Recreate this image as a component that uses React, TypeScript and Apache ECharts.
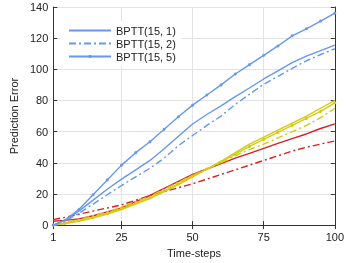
import React, { useEffect, useRef } from "react";
import * as echarts from "echarts";

const timeSteps = [1, 5, 10, 15, 20, 25, 30, 35, 40, 45, 50, 55, 60, 65, 70, 75, 80, 85, 90, 95, 100];
const xTicks = [1, 25, 50, 75, 100];

const blue1 = [0, 3, 9, 16, 23, 29.5, 35.5, 41.5, 49, 57, 64.9, 71, 76.5, 82.5, 88, 93.8, 99, 104.3, 108.5, 112, 115.5];
const blue2 = [0, 2.5, 7.5, 13.5, 19.5, 25.4, 31, 36.5, 43, 51, 57.5, 64, 70, 77.5, 84, 90.4, 95.5, 100.6, 105.5, 109.5, 113.2];
const blue5 = [0, 3, 10, 19.5, 29, 38.5, 46.5, 53.5, 61.5, 69.5, 77, 83.5, 90, 97, 103, 109, 115, 121.5, 126, 131, 136];
const red1 = [2.5, 3, 4, 6, 8.5, 11, 15, 19, 23.5, 28, 32.5, 36, 39.5, 43, 46, 49.3, 52.5, 55.5, 58.5, 62, 65];
const red2 = [3.5, 5, 7, 9, 11, 13, 16, 19, 21.5, 24, 26.5, 29.5, 32.5, 35.5, 38.5, 41.5, 44.5, 47.5, 50, 52, 54];
const yellow1 = [0, 1, 2.5, 4.5, 7, 10, 13.5, 17, 21.5, 26, 31, 36, 41, 46.5, 52, 56.5, 61, 65.5, 70, 75, 80];
const yellow5 = [0, 1, 3, 5, 7.5, 10.5, 14, 17.5, 22, 26.5, 31.5, 36, 40.5, 45.5, 50.5, 55, 59.5, 64, 68.5, 73, 78.5];
const yellow2 = [0, 1.5, 3.5, 6, 8.5, 11.5, 15, 18.5, 23, 27.5, 32, 36, 40, 44.5, 48.5, 52, 56, 60, 64, 69, 75];

const legendNames = ["BPTT(15, 1)", "BPTT(15, 2)", "BPTT(15, 5)"];

const BLUE = "#6797ee";
const RED = "#d92020";
const YELLOW = "#d2cc12";
const DASHDOT = [7, 3, 2, 3];

const zip = (vals: number[]) => timeSteps.map((t, i) => [t, vals[i]]);

export default function App() {
  const ref = useRef<HTMLDivElement>(null);
  useEffect(() => {
    if (!ref.current) return;
    const chart = echarts.init(ref.current, null, { renderer: "svg" });
    const font = "Liberation Sans";
    const mk = (name: string, vals: number[], color: string, dash: boolean, marker: boolean) => ({
      type: "line",
      name,
      data: zip(vals),
      symbol: marker ? "circle" : "none",
      symbolSize: 3,
      showSymbol: marker,
      itemStyle: { color },
      lineStyle: { color, width: 1.4, type: dash ? DASHDOT : "solid" },
      z: 3,
    });
    chart.setOption({
      animation: false,
      textStyle: { fontFamily: font },
      grid: { left: 46, right: 11, top: 7, bottom: 36 },
      legend: {
        data: [
          { name: legendNames[0], itemStyle: { opacity: 0 } },
          { name: legendNames[1], itemStyle: { opacity: 0 } },
          { name: legendNames[2] },
        ],
        orient: "vertical",
        left: 60,
        top: 21,
        itemWidth: 42,
        itemHeight: 4,
        itemGap: 2,
        backgroundColor: "#ffffff",
        padding: [4, 6, 4, 8],
        textStyle: { fontSize: 11, color: "#222", fontFamily: font },
      },
      xAxis: [
        {
          type: "value",
          min: 1,
          max: 100,
          name: "Time-steps",
          nameLocation: "middle",
          nameGap: 18,
          nameTextStyle: { fontSize: 11, color: "#222" },
          axisLine: { show: true, lineStyle: { color: "#333" } },
          axisTick: { show: true, inside: true, length: 4, customValues: xTicks, lineStyle: { color: "#333" } },
          axisLabel: { customValues: xTicks, fontSize: 11, color: "#222", margin: 6 },
          splitLine: { show: true, lineStyle: { color: "#e3e3e3" } },
        },
        {
          type: "value",
          min: 1,
          max: 100,
          position: "top",
          axisLine: { show: true, lineStyle: { color: "#333" } },
          axisTick: { show: true, inside: true, length: 4, customValues: xTicks, lineStyle: { color: "#333" } },
          axisLabel: { show: false, customValues: xTicks },
          splitLine: { show: false },
        },
      ],
      yAxis: [
        {
          type: "value",
          min: 0,
          max: 140,
          interval: 20,
          name: "Prediction Error",
          nameLocation: "middle",
          nameGap: 25,
          nameTextStyle: { fontSize: 11, color: "#222" },
          axisLine: { show: true, lineStyle: { color: "#333" } },
          axisTick: { show: true, inside: true, length: 4, lineStyle: { color: "#333" } },
          axisLabel: { fontSize: 11, color: "#222", margin: 5 },
          splitLine: { show: true, lineStyle: { color: "#e3e3e3" } },
        },
        {
          type: "value",
          min: 0,
          max: 140,
          interval: 20,
          position: "right",
          axisLine: { show: true, lineStyle: { color: "#333" } },
          axisTick: { show: true, inside: true, length: 4, lineStyle: { color: "#333" } },
          axisLabel: { show: false },
          splitLine: { show: false },
        },
      ],
      series: [
        mk("red1", red1, RED, false, false),
        mk("red2", red2, RED, true, false),
        mk("yellow2", yellow2, YELLOW, true, false),
        mk("yellow5", yellow5, YELLOW, false, true),
        mk("yellow1", yellow1, YELLOW, false, false),
        mk(legendNames[0], blue1, BLUE, false, false),
        mk(legendNames[1], blue2, BLUE, true, false),
        mk(legendNames[2], blue5, BLUE, false, true),
      ],
    });
    return () => chart.dispose();
  }, []);
  return (
    <div
      ref={ref}
      style={{ position: "fixed", left: 0, top: 0, width: 347, height: 263 }}
    />
  );
}
